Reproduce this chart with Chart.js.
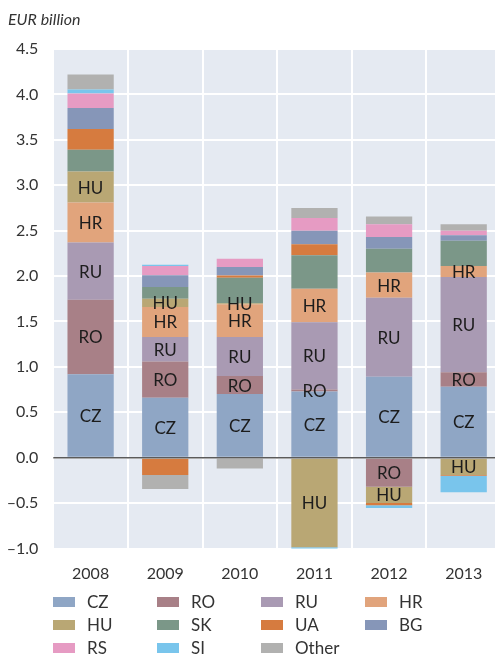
<!DOCTYPE html>
<html>
<head>
<meta charset="utf-8">
<script src="https://cdn.jsdelivr.net/npm/chart.js@4"></script>
<style>
    body { margin: 0; overflow: hidden; background: #fff; font-family: Lato, "Open Sans", sans-serif; }
    #wrap { position: relative; width: 501px; height: 657px; }
    #unit { position: absolute; left: 8px; top: 9px; font-size: 16px; font-style: italic; color: #333; }
    #legend { position: absolute; left: 53px; top: 591px; }
    .leg-item { position: absolute; width: 104px; height: 22px; font-size: 17px; color: #333; line-height: 22px; }
    .leg-item span.box { position: absolute; left: 0; top: 6px; width: 22px; height: 10px; }
    .leg-item span.txt { position: absolute; left: 34px; top: 0; }
</style>
</head>
<body>
<div id="wrap">
    <canvas id="mixChart" width="501" height="657"></canvas>
    <div id="unit">EUR billion</div>
    <div id="legend"></div>
</div>
<script>
// --- data ---
const years = ['2008', '2009', '2010', '2011', '2012', '2013'];
const seriesNames = ['CZ', 'RO', 'RU', 'HR', 'HU', 'SK', 'UA', 'BG', 'RS', 'SI', 'Other'];
const cz    = [0.92, 0.66, 0.70, 0.73, 0.89, 0.78];
const ro    = [0.82, 0.40, 0.20, 0.02, -0.32, 0.16];
const ru    = [0.63, 0.27, 0.43, 0.74, 0.87, 1.05];
const hr    = [0.44, 0.33, 0.36, 0.37, 0.28, 0.12];
const hu    = [0.34, 0.09, 0.01, -0.985, -0.18, -0.19];
const sk    = [0.24, 0.13, 0.28, 0.37, 0.26, 0.28];
const ua    = [0.23, -0.19, 0.025, 0.12, -0.025, -0.01];
const bg    = [0.23, 0.13, 0.095, 0.15, 0.13, 0.06];
const rs    = [0.16, 0.10, 0.09, 0.14, 0.14, 0.05];
const si    = [0.045, 0.015, 0, -0.02, -0.03, -0.18];
const other = [0.165, -0.155, -0.12, 0.11, 0.085, 0.07];
const yTicks = [-1.0, -0.5, 0.0, 0.5, 1.0, 1.5, 2.0, 2.5, 3.0, 3.5, 4.0, 4.5];
const labelledSeries = ['CZ', 'RO', 'RU', 'HR', 'HU'];

const seriesValues = [cz, ro, ru, hr, hu, sk, ua, bg, rs, si, other];
const seriesColors = ['#8fa6c5', '#a88087', '#a99ab3', '#e1a47c', '#b9a774', '#7b9788',
                      '#d67b3f', '#8696b8', '#e69bc3', '#79c5ec', '#b1b1b0'];

// --- plot background + zero line + in-bar labels ---
const decorPlugin = {
    id: 'decor',
    beforeDraw(chart) {
        const a = chart.chartArea;
        const c = chart.ctx;
        c.save();
        c.fillStyle = '#e5eaf2';
        c.fillRect(a.left, a.top, a.right - a.left, a.bottom - a.top);
        c.restore();
    },
    afterDatasetsDraw(chart) {
        const c = chart.ctx;
        const a = chart.chartArea;
        const y0 = chart.scales.y.getPixelForValue(0);
        c.save();
        c.strokeStyle = '#5b5b5b';
        c.lineWidth = 1.5;
        c.beginPath();
        c.moveTo(a.left, y0);
        c.lineTo(a.right, y0);
        c.stroke();

        c.font = '17px Lato, "Open Sans", sans-serif';
        c.fillStyle = '#1c1c1c';
        c.textAlign = 'center';
        c.textBaseline = 'middle';
        chart.data.datasets.forEach((ds, i) => {
            if (!labelledSeries.includes(ds.label)) return;
            chart.getDatasetMeta(i).data.forEach(bar => {
                const p = bar.getCenterPoint();
                c.fillText(ds.label, p.x, p.y + 1);
            });
        });
        c.restore();
    }
};

function fmtTick(v) {
    const s = Math.abs(v).toFixed(1);
    return v < 0 ? '\u2013' + s : s;
}

const ctx = document.getElementById('mixChart').getContext('2d');
new Chart(ctx, {
    type: 'bar',
    data: {
        labels: years,
        datasets: seriesNames.map((name, i) => ({
            label: name,
            data: seriesValues[i],
            backgroundColor: seriesColors[i],
            borderWidth: 0,
            categoryPercentage: 1,
            barPercentage: 0.62
        }))
    },
    options: {
        responsive: false,
        animation: false,
        devicePixelRatio: 1,
        layout: { padding: { top: 49, right: 0, bottom: 68.5, left: 0 } },
        plugins: {
            legend: { display: false },
            tooltip: { enabled: false }
        },
        scales: {
            x: {
                stacked: true,
                grid: { color: '#ffffff', lineWidth: 2, drawTicks: false },
                border: { display: false },
                ticks: { color: '#333', padding: 16, font: { family: 'Lato', size: 16 } },
                afterFit(scale) { scale.height = 40; }
            },
            y: {
                stacked: true,
                min: -1,
                max: 4.5,
                afterBuildTicks(scale) { scale.ticks = yTicks.map(v => ({ value: v })); },
                grid: { color: '#ffffff', lineWidth: 2, drawTicks: false },
                border: { display: false },
                ticks: {
                    color: '#333',
                    padding: 15,
                    font: { family: 'Lato', size: 16 },
                    callback: v => fmtTick(v)
                },
                afterFit(scale) { scale.width = 53.3; }
            }
        }
    },
    plugins: [decorPlugin]
});

// --- legend (4-column grid, row-major) ---
const legendEl = document.getElementById('legend');
seriesNames.forEach((name, i) => {
    const item = document.createElement('div');
    item.className = 'leg-item';
    item.style.left = (i % 4) * 104 + 'px';
    item.style.top = Math.floor(i / 4) * 22.8 + 'px';
    item.innerHTML = '<span class="box" style="background:' + seriesColors[i] + '"></span><span class="txt">' + name + '</span>';
    legendEl.appendChild(item);
});
</script>
</body>
</html>
